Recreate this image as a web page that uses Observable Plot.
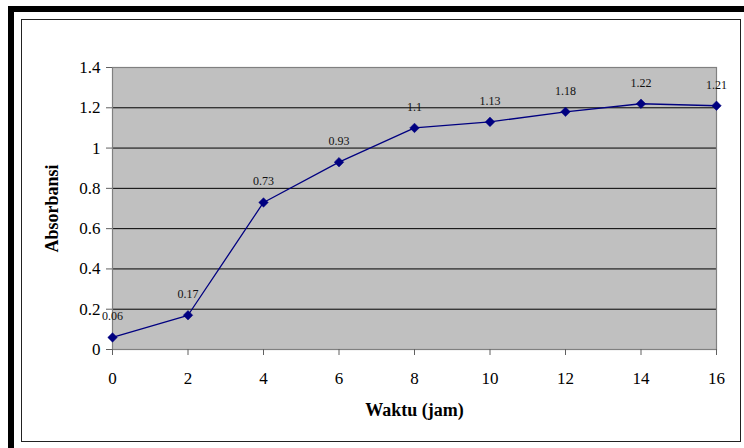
<!DOCTYPE html>
<html>
<head>
<meta charset="utf-8">
<script src="https://cdn.jsdelivr.net/npm/d3@7"></script>
<script src="https://cdn.jsdelivr.net/npm/@observablehq/plot@0.6"></script>
<style>
  html, body { margin: 0; padding: 0; background: #fff; }
  #wrap { position: relative; width: 744px; height: 448px; overflow: hidden; }
  #wrap svg { position: absolute; left: 0; top: 0; }
  #wrap svg text { font-family: "Liberation Serif", serif !important; }
  .b { position: absolute; box-sizing: border-box; }
</style>
</head>
<body>
<div id="wrap">
  <div class="b" style="left:8px;top:6px;width:736px;height:6px;background:#000"></div>
  <div class="b" style="left:8px;top:6px;width:6px;height:442px;background:#000"></div>
  <div class="b" style="left:21px;top:19px;width:720px;height:423px;border:1.5px solid #222"></div>
</div>
<script>
const waktu = [0, 2, 4, 6, 8, 10, 12, 14, 16];
const absorbansi = [0.06, 0.17, 0.73, 0.93, 1.1, 1.13, 1.18, 1.22, 1.21];
const pointLabels = ["0.06", "0.17", "0.73", "0.93", "1.1", "1.13", "1.18", "1.22", "1.21"];
const xTicks = [0, 2, 4, 6, 8, 10, 12, 14, 16];
const yTicks = [0, 0.2, 0.4, 0.6, 0.8, 1, 1.2, 1.4];
const yTickLabels = ["0", "0.2", "0.4", "0.6", "0.8", "1", "1.2", "1.4"];
const xTitle = "Waktu (jam)";
const yTitle = "Absorbansi";

const FONT = "Liberation Serif";
const data = waktu.map((w, i) => ({w, a: absorbansi[i], label: pointLabels[i]}));

const chart = Plot.plot({
  width: 744,
  height: 448,
  marginLeft: 112,
  marginRight: 28,
  marginTop: 67,
  marginBottom: 99,
  style: {background: "transparent", overflow: "visible", fontFamily: FONT},
  x: {domain: [0, 16]},
  y: {domain: [0, 1.4]},
  marks: [
    Plot.frame({fill: "#c0c0c0", stroke: "none"}),
    Plot.gridY(yTicks.slice(1, -1), {stroke: "#000", strokeOpacity: 1, strokeWidth: 1}),
    Plot.frame({stroke: "#808080", strokeWidth: 1.2}),
    Plot.axisY(yTicks, {tickSize: 6, tickPadding: 6, stroke: "#606060", fill: "#000", fontSize: 17, fontFamily: FONT,
      tickFormat: (d, i) => yTickLabels[i], label: null}),
    Plot.axisX(xTicks, {tickSize: 6, tickPadding: 16, stroke: "#606060", fill: "#000", fontSize: 17, fontFamily: FONT,
      tickFormat: d => String(d), label: null}),
    Plot.line(data, {x: "w", y: "a", stroke: "#000080", strokeWidth: 1.3}),
    Plot.dot(data, {x: "w", y: "a", symbol: "diamond2", r: 4.3, fill: "#000080", stroke: "#000080", strokeWidth: 0.5}),
    Plot.text(data, {x: "w", y: "a", text: "label", dy: -21, fontSize: 12, fontFamily: FONT, fill: "#111"}),
    Plot.text([xTitle], {frameAnchor: "bottom", text: d => d, dy: 61, textAnchor: "middle", lineAnchor: "middle",
      fontSize: 18, fontFamily: FONT, fontWeight: "bold", fill: "#000"}),
    Plot.text([yTitle], {frameAnchor: "left", text: d => d, dx: -60, rotate: -90, textAnchor: "middle", lineAnchor: "middle",
      fontSize: 18, fontFamily: FONT, fontWeight: "bold", fill: "#000"})
  ]
});
document.getElementById("wrap").prepend(chart);
</script>
</body>
</html>
